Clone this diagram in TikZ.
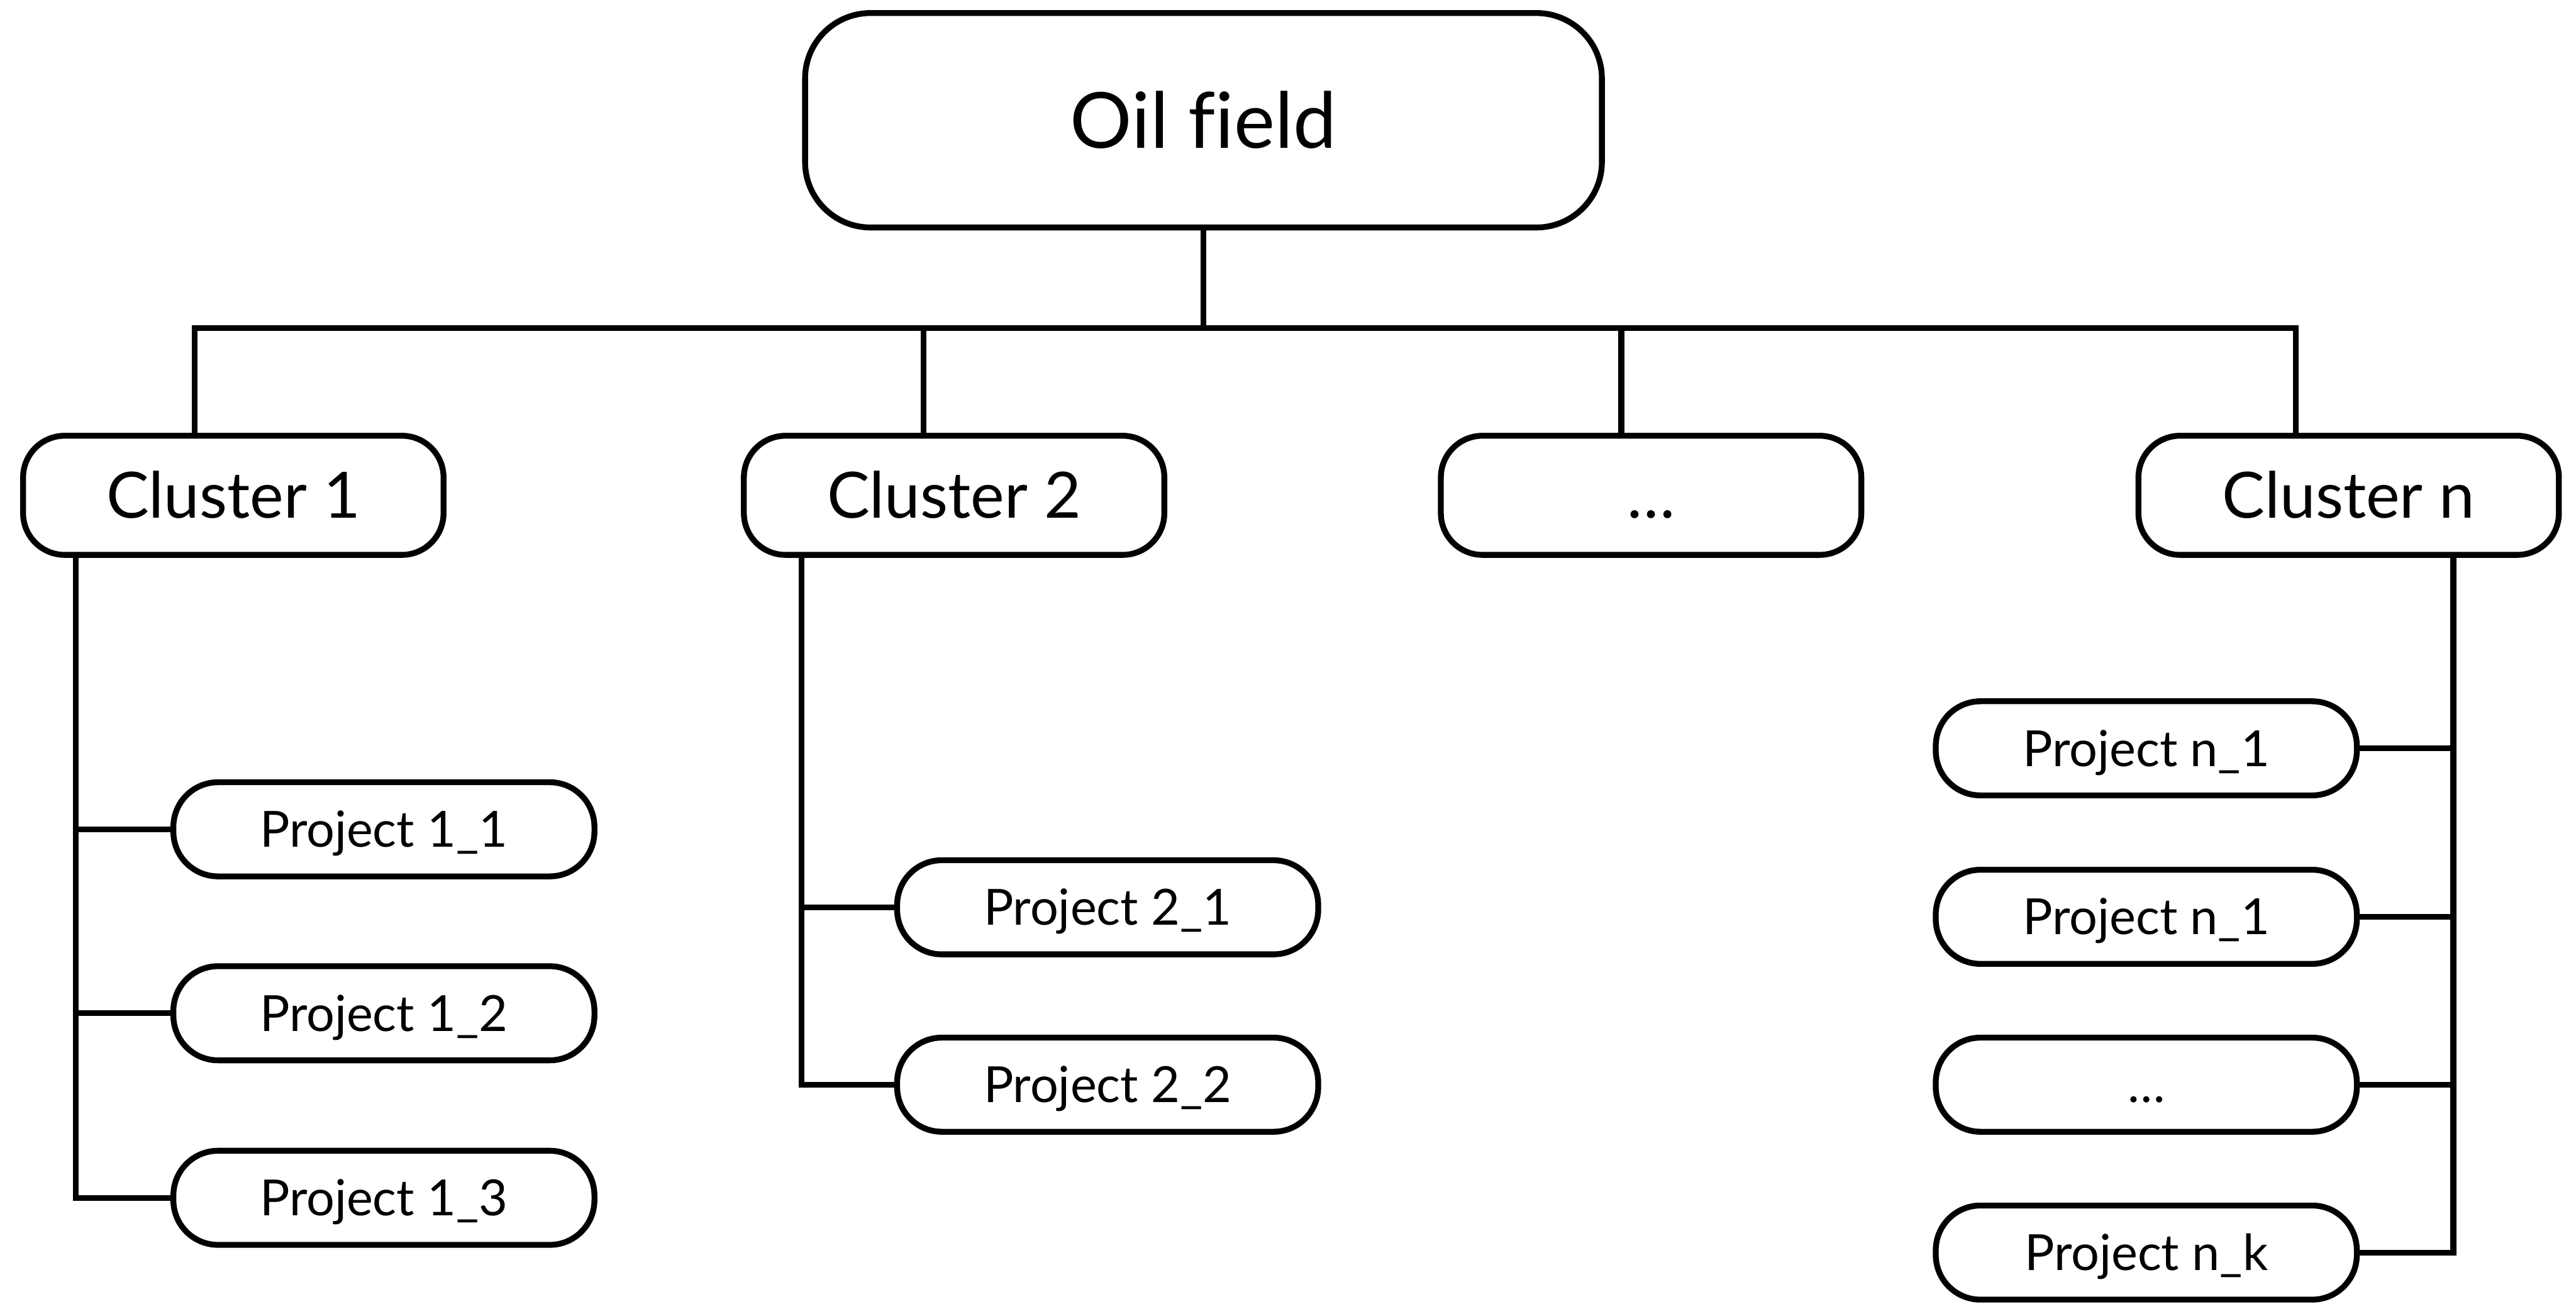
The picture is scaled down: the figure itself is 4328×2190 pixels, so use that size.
\documentclass[tikz,border=0pt]{standalone}
\usepackage{fontspec}
\setmainfont{Lato}[Ligatures=NoCommon]
\usetikzlibrary{positioning}

\tikzset{
  rootbox/.style={draw, line width=2.8pt, rounded corners=1.1cm, minimum width=13.38cm, minimum height=3.6cm, font=\fontsize{37}{40}\selectfont, text height=0.94cm, text depth=0pt},
  clusterbox/.style={draw, line width=2.8pt, rounded corners=0.7cm, minimum width=7.06cm, minimum height=2cm, font=\fontsize{30.5}{33}\selectfont, text height=0.77cm, text depth=0pt},
  projbox/.style={draw, line width=2.8pt, rounded corners=0.75cm, minimum width=7.07cm, minimum height=1.58cm, font=\fontsize{23.8}{26}\selectfont, text height=0.6cm, text depth=0pt},
  link/.style={line width=2.8pt}
}

\begin{document}
\begin{tikzpicture}[x=0.01cm, y=-0.01cm]
    \useasboundingbox (0,0) rectangle (4328,2190);

    \node[rootbox] (field) at (2022,202) {Oil field};

    \node[clusterbox] (c1) at (392,832) {Cluster 1};
    \node[clusterbox] (c2) at (1603,832) {Cluster 2};
    \node[clusterbox] (cdots) at (2774,832) {…};
    \node[clusterbox] (cn) at (3946,832) {Cluster n};

    \node[projbox] (p11) at (645,1393) {Project 1\_1};
    \node[projbox] (p12) at (645,1702) {Project 1\_2};
    \node[projbox] (p13) at (645,2012) {Project 1\_3};

    \node[projbox] (p21) at (1861,1524) {Project 2\_1};
    \node[projbox] (p22) at (1861,1822) {Project 2\_2};

    \node[projbox] (pn1) at (3606,1257) {Project n\_1};
    \node[projbox] (pn2) at (3606,1540) {Project n\_1};
    \node[projbox] (pndots) at (3606,1822) {…};
    \node[projbox] (pnk) at (3606,2104) {Project n\_k};

    % bus below the oil field
    \coordinate (bus) at (2022,551);
    \coordinate (d1) at (327,551);
    \coordinate (d2) at (1552,551);
    \coordinate (d3) at (2724,551);
    \coordinate (d4) at (3857,551);
    \draw[link] (field.south) -- (bus);
    \draw[link] (d1 |- c1.north) -- (d1) -- (d4) -- (d4 |- cn.north);
    \draw[link] (d2) -- (d2 |- c2.north);
    \draw[link] (d3) -- (d3 |- cdots.north);

    % trunks to the projects
    \coordinate (t1) at (127,0);
    \coordinate (t2) at (1347,0);
    \coordinate (tn) at (4122,0);
    \draw[link] (c1.south -| t1) -- (p13.west -| t1) -- (p13.west);
    \foreach \p in {p11,p12}
        \draw[link] (\p.west -| t1) -- (\p.west);
    \draw[link] (c2.south -| t2) -- (p22.west -| t2) -- (p22.west);
    \draw[link] (p21.west -| t2) -- (p21.west);
    \draw[link] (cn.south -| tn) -- (pnk.east -| tn) -- (pnk.east);
    \foreach \p in {pn1,pn2,pndots}
        \draw[link] (\p.east -| tn) -- (\p.east);
\end{tikzpicture}
\end{document}
